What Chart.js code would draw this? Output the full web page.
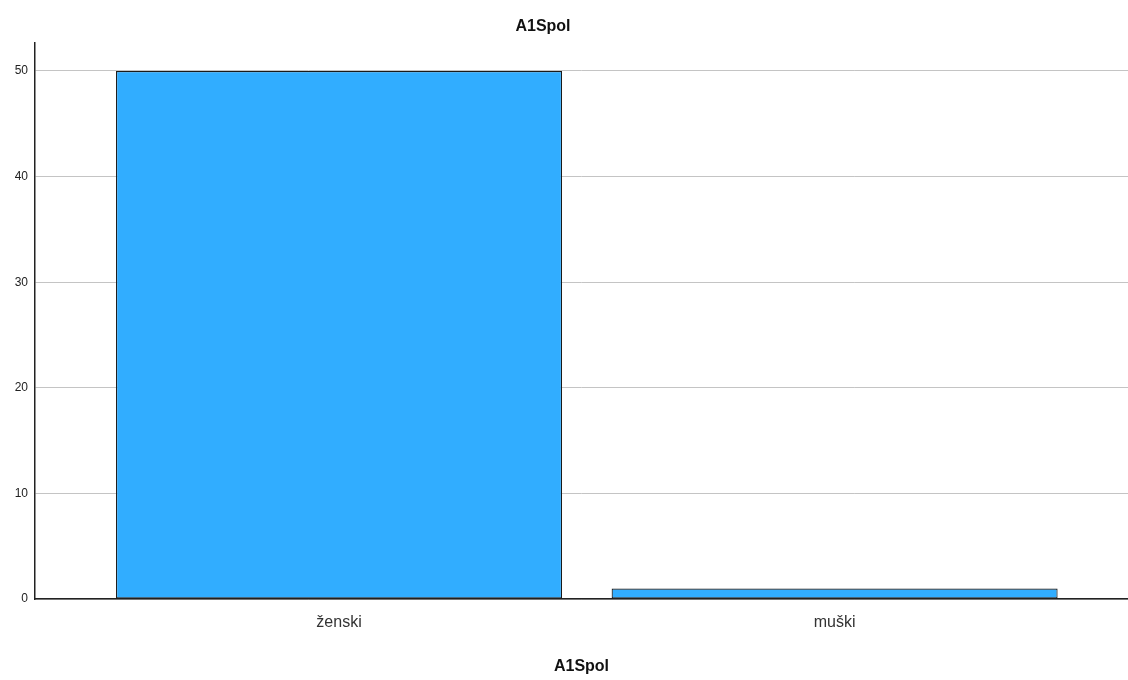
<!DOCTYPE html>
<html lang="hr">
<head>
  <meta charset="UTF-8" />
  <title>A1Spol</title>
  <script src="https://cdn.jsdelivr.net/npm/chart.js"></script>
  <style>
    html, body { margin: 0; padding: 0; background: #fff; }
    #chart { display: block; }
  </style>
</head>
<body>
  <canvas id="chart" width="1128" height="680"></canvas>

  <script>
    // data
    const categories = ["ženski", "muški"];
    const counts = [50, 1];
    const yTicks = [0, 10, 20, 30, 40, 50];
    const chartTitle = "A1Spol";

    // title is drawn a bit left of the canvas centre, like the original
    const titlePlugin = {
      id: "spssTitle",
      afterDraw(chart) {
        const ctx = chart.ctx;
        ctx.save();
        ctx.font = "bold 16px 'Liberation Sans', Arial, sans-serif";
        ctx.fillStyle = "#111";
        ctx.textAlign = "center";
        ctx.textBaseline = "middle";
        ctx.fillText(chartTitle, 543, 27);
        ctx.restore();
      }
    };

    const ctx = document.getElementById("chart").getContext("2d");
    new Chart(ctx, {
      type: "bar",
      data: {
        datasets: [{
          data: counts.map((v, i) => ({ x: i, y: v })),
          backgroundColor: "#31adff",
          borderColor: "#1a1a1a",
          borderWidth: 1.2,
          borderSkipped: false,
          barPercentage: 0.9,
          categoryPercentage: 1
        }]
      },
      options: {
        responsive: false,
        animation: false,
        layout: { padding: { top: 43, right: 0, bottom: 0, left: 0 } },
        plugins: { legend: { display: false }, tooltip: { enabled: false }, title: { display: false } },
        scales: {
          x: {
            type: "linear",
            offset: false,
            min: -0.6135,
            max: 1.592,
            afterBuildTicks: s => { s.ticks = categories.map((c, i) => ({ value: i })); },
            afterFit: s => { s.height = 81; },
            ticks: {
              autoSkip: false,
              maxRotation: 0,
              padding: 14,
              color: "#333",
              font: { family: "'Liberation Sans', Arial, sans-serif", size: 16 },
              callback: v => categories[v]
            },
            grid: { display: false, drawTicks: false, offset: false },
            border: { color: "#222", width: 1.5 },
            title: {
              display: true,
              text: chartTitle,
              color: "#111",
              font: { family: "'Liberation Sans', Arial, sans-serif", size: 16, weight: "bold" },
              padding: { top: 26, bottom: 3.4 }
            }
          },
          y: {
            min: 0,
            max: 52.65,
            afterBuildTicks: s => { s.ticks = yTicks.map(v => ({ value: v })); },
            afterFit: s => { s.width = 35; },
            ticks: {
              padding: 7,
              color: "#222",
              font: { family: "'Liberation Sans', Arial, sans-serif", size: 12 }
            },
            grid: { color: "#c4c4c4", lineWidth: 1, drawTicks: false },
            border: { color: "#222", width: 1.5 }
          }
        }
      },
      plugins: [titlePlugin]
    });
  </script>
</body>
</html>
